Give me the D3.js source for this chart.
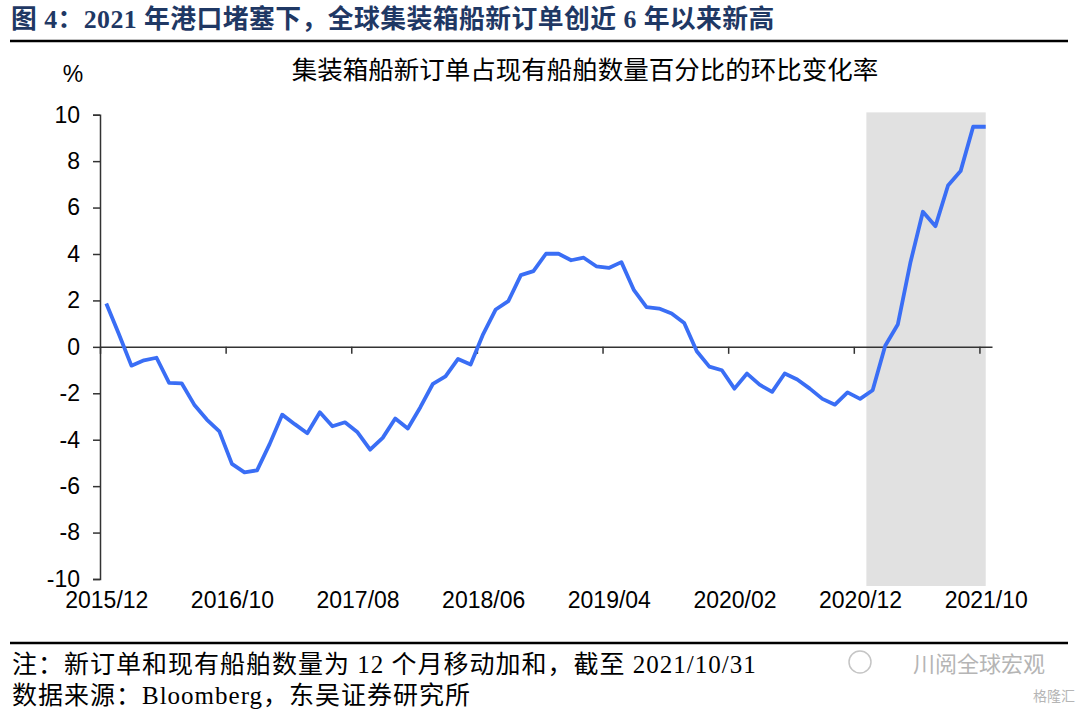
<!DOCTYPE html>
<html><head><meta charset="utf-8">
<script src="https://cdn.jsdelivr.net/npm/d3@7"></script>
<style>
body{margin:0;background:#fff;}
svg{display:block;}
</style></head>
<body>
<svg id="chart" width="1080" height="713"></svg>
<script>
// ---- data ----
const categories = ["2015/12","2016/01","2016/02","2016/03","2016/04","2016/05","2016/06","2016/07","2016/08","2016/09",
"2016/10","2016/11","2016/12","2017/01","2017/02","2017/03","2017/04","2017/05","2017/06","2017/07",
"2017/08","2017/09","2017/10","2017/11","2017/12","2018/01","2018/02","2018/03","2018/04","2018/05",
"2018/06","2018/07","2018/08","2018/09","2018/10","2018/11","2018/12","2019/01","2019/02","2019/03",
"2019/04","2019/05","2019/06","2019/07","2019/08","2019/09","2019/10","2019/11","2019/12","2020/01",
"2020/02","2020/03","2020/04","2020/05","2020/06","2020/07","2020/08","2020/09","2020/10","2020/11",
"2020/12","2021/01","2021/02","2021/03","2021/04","2021/05","2021/06","2021/07","2021/08","2021/09","2021/10"];
const values = [1.87,0.55,-0.81,-0.58,-0.47,-1.55,-1.57,-2.49,-3.13,-3.64,
-5.04,-5.41,-5.32,-4.19,-2.92,-3.33,-3.72,-2.82,-3.42,-3.25,
-3.68,-4.43,-3.92,-3.09,-3.52,-2.60,-1.59,-1.27,-0.52,-0.76,
0.55,1.61,1.97,3.09,3.26,4.01,4.01,3.73,3.84,3.47,
3.40,3.65,2.44,1.71,1.65,1.44,1.03,-0.19,-0.85,-1.01,
-1.80,-1.15,-1.63,-1.94,-1.15,-1.41,-1.80,-2.24,-2.49,-1.96,
-2.24,-1.87,0.05,0.96,3.62,5.82,5.20,6.95,7.57,9.48,9.48];
const xTickLabels = ["2015/12","2016/10","2017/08","2018/06","2019/04","2020/02","2020/12","2021/10"];
const yTicks = [-10,-8,-6,-4,-2,0,2,4,6,8,10];
const shadeRange = ["2021/01","2021/10"];
const shadeY = [10.1,-10.3];

const titleText = "图 4：2021 年港口堵塞下，全球集装箱船新订单创近 6 年以来新高";
const subtitleText = "集装箱船新订单占现有船舶数量百分比的环比变化率";
const unitText = "%";
const noteText = "注：新订单和现有船舶数量为 12 个月移动加和，截至 2021/10/31";
const sourceText = "数据来源：Bloomberg，东吴证券研究所";

// ---- drawing ----
const svg = d3.select("#chart");
const serif = "'Liberation Serif','Noto Sans CJK SC',serif";
const sans = "'Liberation Sans',Arial,sans-serif";
const cjk = "'Noto Sans CJK SC',sans-serif";

const xl = d3.scaleLinear().domain([0, categories.length]).range([100, 992]);
const idx = c => categories.indexOf(c);
const y = d3.scaleLinear().domain([-10, 10]).range([579, 114.7]);

// title
svg.append("text").attr("x", 11).attr("y", 28).attr("letter-spacing", 0.45)
  .attr("font-family", serif).attr("font-weight", "bold").attr("font-size", 25.8)
  .attr("fill", "#1f3864").text(titleText);
svg.append("line").attr("x1", 10).attr("x2", 1068).attr("y1", 41).attr("y2", 41)
  .attr("stroke", "#000").attr("stroke-width", 2.5);

// subtitle & unit
svg.append("text").attr("x", 585).attr("y", 79).attr("text-anchor", "middle")
  .attr("font-family", cjk).attr("font-size", 25.5).attr("fill", "#000").text(subtitleText);
svg.append("text").attr("x", 73).attr("y", 82).attr("text-anchor", "middle")
  .attr("font-family", sans).attr("font-size", 23).attr("fill", "#000").text(unitText);

// shade
const s0 = idx(shadeRange[0]), s1 = idx(shadeRange[1]);
svg.append("rect")
  .attr("x", xl(s0)).attr("width", xl(s1 + 0.5) - xl(s0))
  .attr("y", y(shadeY[0])).attr("height", y(shadeY[1]) - y(shadeY[0]))
  .attr("fill", "#e1e1e1");

// y axis
const yAxis = svg.append("g").attr("transform", "translate(100,0)")
  .call(d3.axisLeft(y).tickValues(yTicks).tickSize(7).tickPadding(13).tickFormat(d => String(d)));
yAxis.select(".domain").attr("stroke", "#333").attr("stroke-width", 1.5);
yAxis.selectAll(".tick line").attr("stroke", "#333").attr("stroke-width", 1.5);
yAxis.selectAll("text").attr("font-family", sans).attr("font-size", 23).attr("fill", "#000");

// x axis at zero (ticks only)
const tickIdx = xTickLabels.map(idx);
const xAxis = svg.append("g").attr("transform", `translate(0,${y(0)})`)
  .call(d3.axisBottom(xl).tickValues(tickIdx).tickSize(7).tickSizeOuter(0).tickFormat(""));
xAxis.select(".domain").attr("stroke", "#333").attr("stroke-width", 1.5);
xAxis.selectAll(".tick line").attr("stroke", "#333").attr("stroke-width", 1.5);

// x labels at bottom
const xLab = svg.append("g").attr("transform", "translate(0,592)")
  .call(d3.axisBottom(xl).tickValues(tickIdx.map(i => i + 0.5)).tickSize(0).tickPadding(0)
    .tickFormat(v => categories[Math.round(v - 0.5)]));
xLab.select(".domain").remove();
xLab.selectAll("text").attr("font-family", sans).attr("font-size", 23).attr("fill", "#000")
  .attr("dy", "0.71em");

// line
const line = d3.line().x((d, i) => xl(i + 0.5)).y(d => y(d));
svg.append("path").datum(values).attr("d", line)
  .attr("fill", "none").attr("stroke", "#3a6ef5").attr("stroke-width", 3.8)
  .attr("stroke-linejoin", "round");

// footer
svg.append("line").attr("x1", 10).attr("x2", 1068).attr("y1", 643).attr("y2", 643)
  .attr("stroke", "#000").attr("stroke-width", 2.5);
svg.append("text").attr("x", 12).attr("y", 673).attr("letter-spacing", 1)
  .attr("font-family", serif).attr("font-size", 25).attr("fill", "#000").text(noteText);
svg.append("text").attr("x", 12).attr("y", 704).attr("letter-spacing", 1)
  .attr("font-family", serif).attr("font-size", 25).attr("fill", "#000").text(sourceText);

// watermark
svg.append("text").attr("x", 1045).attr("y", 672).attr("text-anchor", "end")
  .attr("font-family", cjk).attr("font-size", 22).attr("fill", "#b5b5b5").text("川阅全球宏观");
svg.append("circle").attr("cx", 860).attr("cy", 662).attr("r", 11)
  .attr("fill", "none").attr("stroke", "#c5c5c5").attr("stroke-width", 1.5);
svg.append("text").attr("x", 1075).attr("y", 701).attr("text-anchor", "end")
  .attr("font-family", cjk).attr("font-size", 14).attr("fill", "#b5b5b5").text("格隆汇");
</script>
</body></html>
